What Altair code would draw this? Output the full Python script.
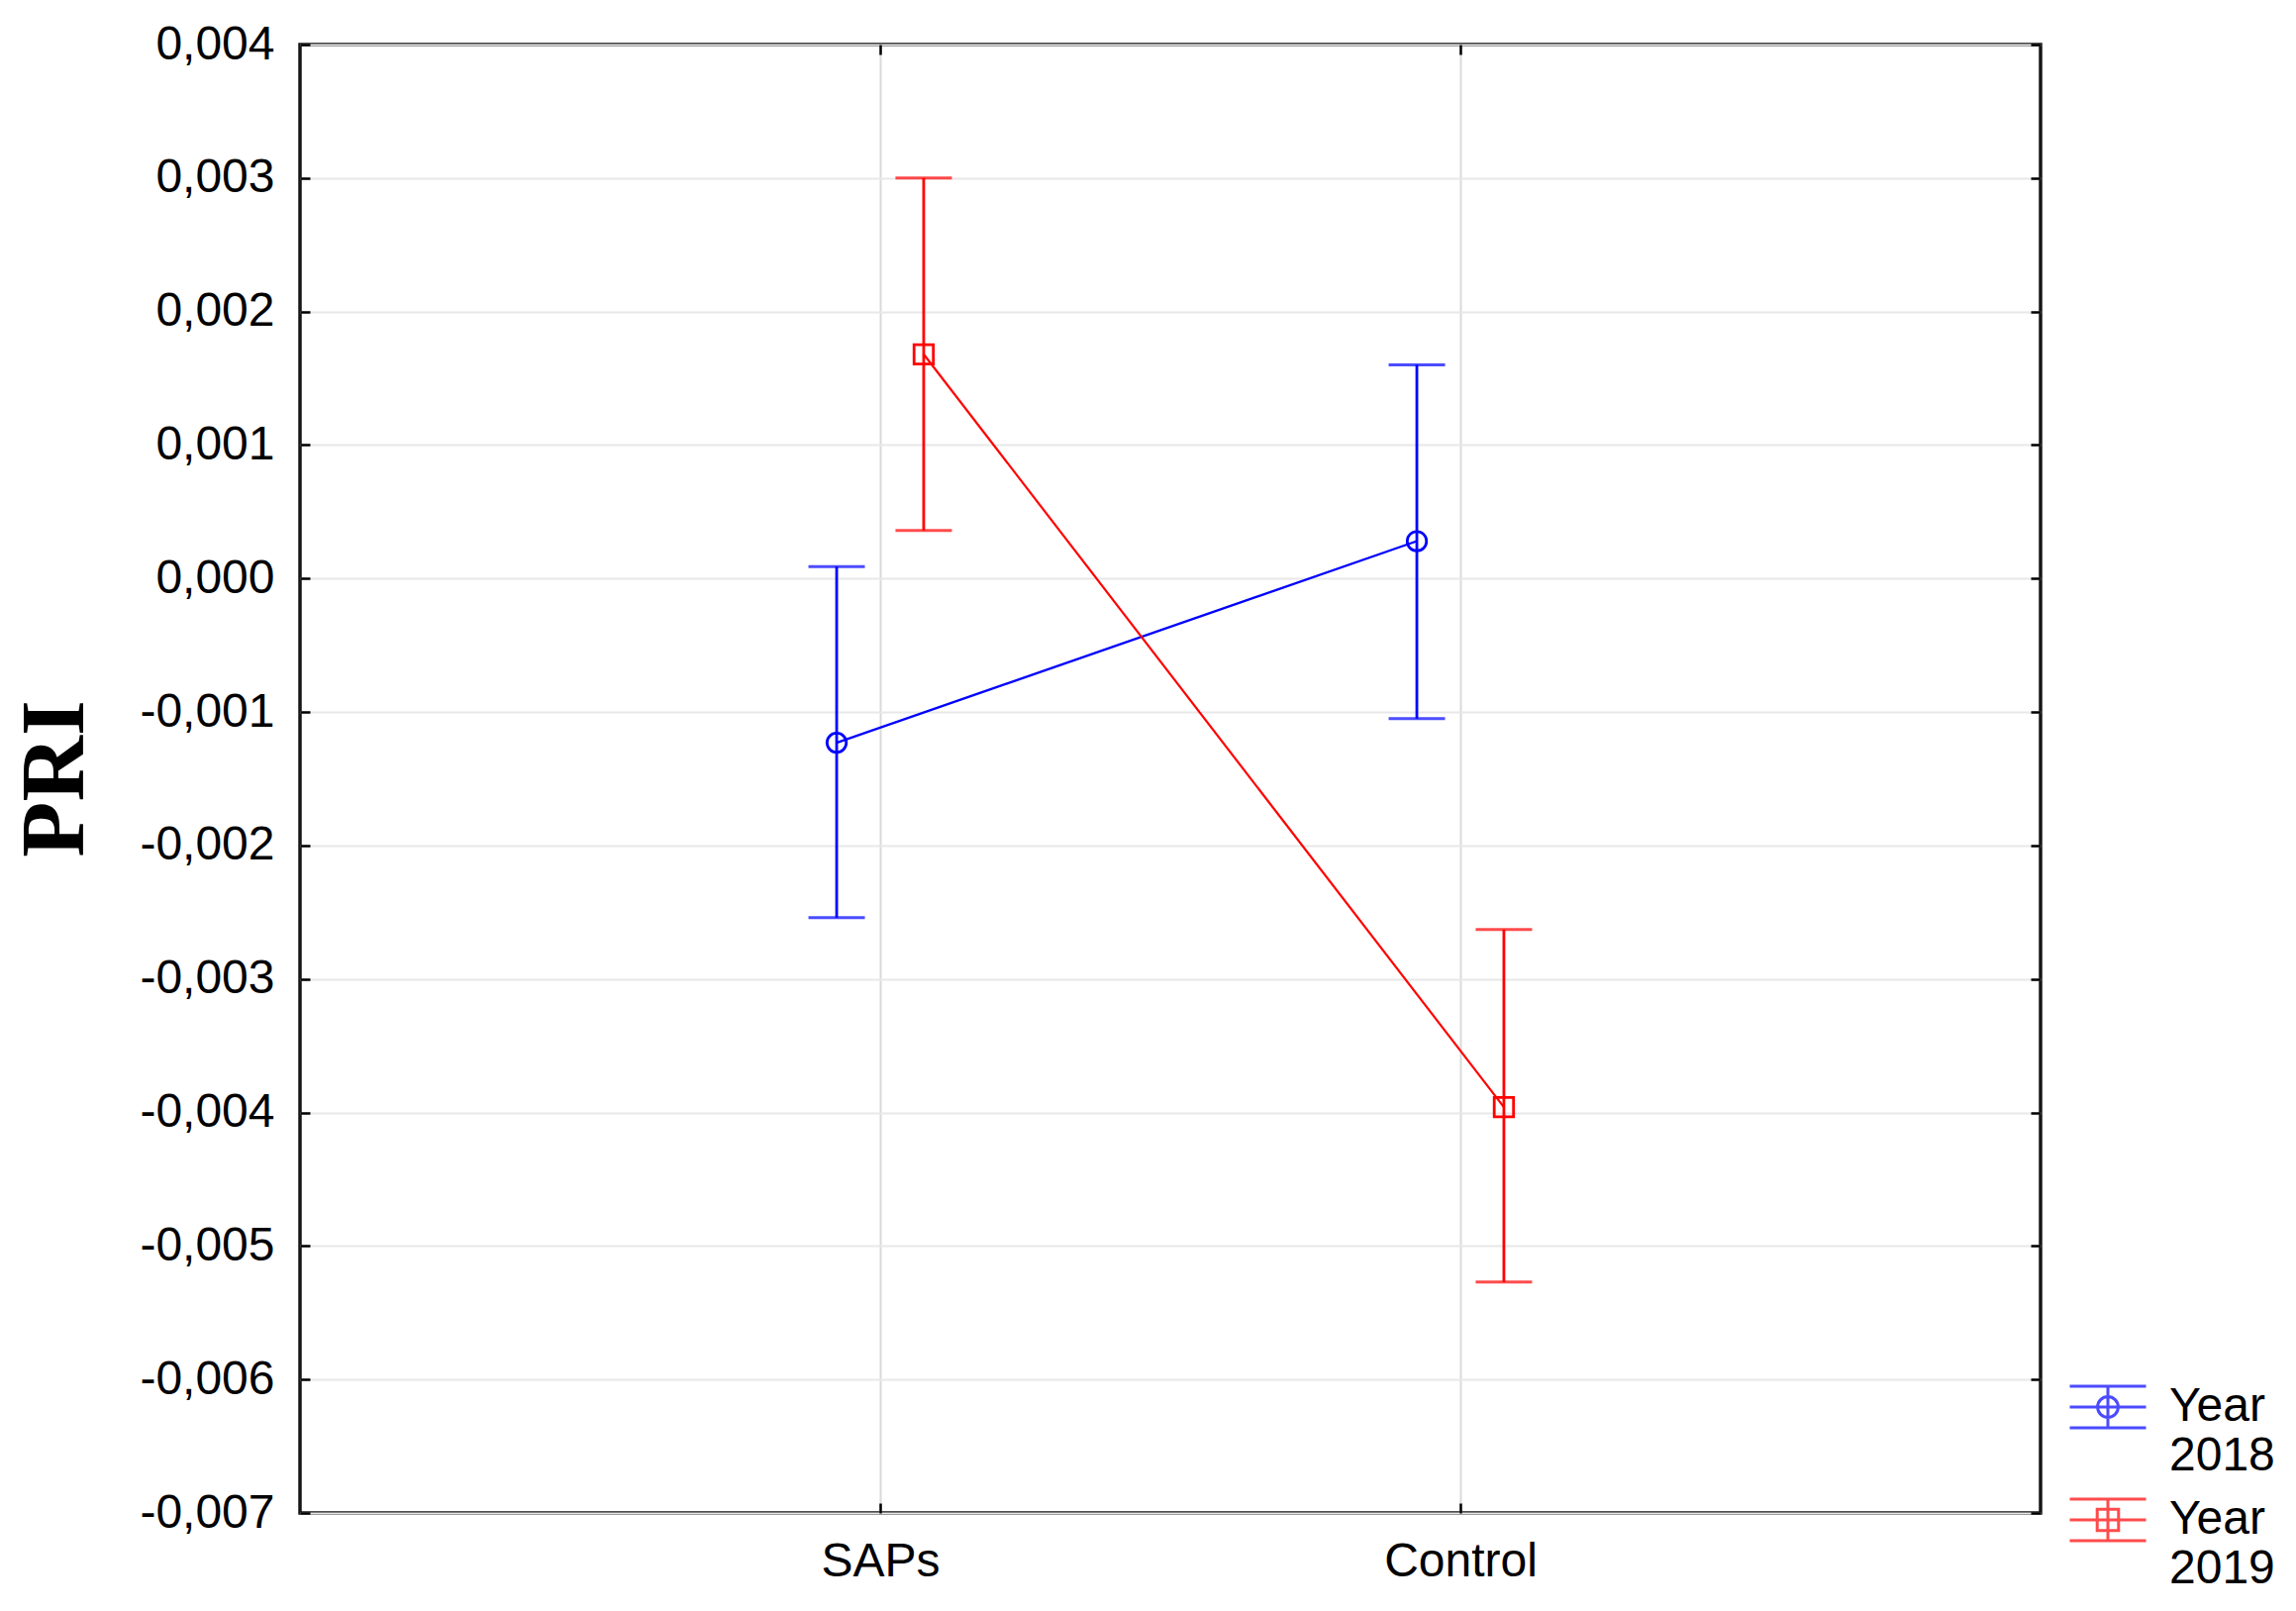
import altair as alt
import pandas as pd

# ---- data ----
groups = ["SAPs", "Control"]
years = ["2018", "2019"]
mean_2018 = [-0.00123, 0.00028]
low_2018 = [-0.00254, -0.00105]
high_2018 = [0.00009, 0.00160]
mean_2019 = [0.00168, -0.00396]
low_2019 = [0.00036, -0.00527]
high_2019 = [0.00300, -0.00263]
y_ticks = [-0.007, -0.006, -0.005, -0.004, -0.003, -0.002, -0.001,
           0.0, 0.001, 0.002, 0.003, 0.004]

dodge = {"2018": -0.075, "2019": 0.075}
rows = []
for yr, m, lo, hi in [("2018", mean_2018, low_2018, high_2018),
                      ("2019", mean_2019, low_2019, high_2019)]:
    for i, g in enumerate(groups):
        rows.append({"Group": g, "Year": yr, "pos": i + 1 + dodge[yr],
                     "mean": m[i], "low": lo[i], "high": hi[i]})
df = pd.DataFrame(rows)

col_dom = years
col_rng = ["#0000ff", "#ff0000"]
color_nolegend = alt.Color("Year:N", scale=alt.Scale(domain=col_dom, range=col_rng), legend=None)

FONT = "Liberation Sans"
LABEL_SIZE = 48
x_scale = alt.Scale(domain=[0, 3], nice=False, zero=False)
y_scale = alt.Scale(domain=[-0.007, 0.004], nice=False, zero=False)

y_label_expr = "(datum.value < -1e-9 ? '-' : '') + replace(format(abs(datum.value), '.3f'), '.', ',')"
x_label_expr = "datum.value == 1 ? 'SAPs' : (datum.value == 2 ? 'Control' : '')"

base = alt.Chart(df)

# main axis layer: connecting lines
lines = base.mark_line(strokeWidth=2.2).encode(
    x=alt.X("pos:Q", scale=x_scale, axis=alt.Axis(
        values=[1, 2], labelExpr=x_label_expr, title=None, ticks=False, domain=False,
        labelFont=FONT, labelFontSize=LABEL_SIZE, labelColor="#000", labelPadding=25,
        grid=True, gridColor="#dadada", gridWidth=2, orient="bottom")),
    y=alt.Y("mean:Q", scale=y_scale, axis=alt.Axis(
        values=y_ticks, labelExpr=y_label_expr, ticks=False, domain=False,
        labelFont=FONT, labelFontSize=LABEL_SIZE, labelColor="#000", labelPadding=26,
        grid=True, gridColor="#e8e8e8", gridWidth=2, orient="left",
        title="PRI", titleFont="Liberation Serif", titleFontWeight="bold",
        titleFontSize=92, titleColor="#000", titleAngle=270,
        titleX=-248, titleY=741, titleAlign="center", titleBaseline="middle")),
    color=color_nolegend,
    detail="Year:N",
    order="pos:Q",
)

rules = base.mark_rule(strokeWidth=2.8).encode(
    x=alt.X("pos:Q", scale=x_scale, axis=None),
    y=alt.Y("low:Q", scale=y_scale, axis=None),
    y2="high:Q",
    color=color_nolegend,
)

caps_hi = base.mark_tick(orient="horizontal", size=57, thickness=3).encode(
    x=alt.X("pos:Q", scale=x_scale, axis=None),
    y=alt.Y("high:Q", scale=y_scale, axis=None),
    color=color_nolegend,
)
caps_lo = base.mark_tick(orient="horizontal", size=57, thickness=3).encode(
    x=alt.X("pos:Q", scale=x_scale, axis=None),
    y=alt.Y("low:Q", scale=y_scale, axis=None),
    color=color_nolegend,
)

points = base.mark_point(filled=False, strokeWidth=2.8, size=380, opacity=1).encode(
    x=alt.X("pos:Q", scale=x_scale, axis=None),
    y=alt.Y("mean:Q", scale=y_scale, axis=None),
    color=color_nolegend,
    shape=alt.Shape("Year:N", scale=alt.Scale(domain=col_dom, range=["circle", "square"]), legend=None),
)

# legend glyphs (error bar with caps and marker)
circ_glyph = ("M-1,-0.545H1M-1,0H1M-1,0.545H1M0,-0.545V0.545"
              "M0.27,0A0.27,0.27 0 1,1 -0.27,0A0.27,0.27 0 1,1 0.27,0Z")
sq_glyph = ("M-1,-0.545H1M-1,0H1M-1,0.545H1M0,-0.545V0.545"
            "M-0.28,-0.28H0.28V0.28H-0.28Z")

legend_props = dict(title=None, orient="none", legendX=1786, legendY=1336,
                    labelExpr="['Year', datum.label]",
                    labelFont=FONT, labelFontSize=LABEL_SIZE, labelColor="#000",
                    labelOffset=22, symbolSize=5929, symbolStrokeWidth=3,
                    padding=0, rowPadding=-4)

legend_layer = base.transform_filter("false").mark_point(filled=False, strokeWidth=3).encode(
    x=alt.X("pos:Q", scale=x_scale, axis=None),
    y=alt.Y("mean:Q", scale=y_scale, axis=None),
    color=alt.Color("Year:N", scale=alt.Scale(domain=col_dom, range=col_rng),
                    legend=alt.Legend(**legend_props)),
    shape=alt.Shape("Year:N", scale=alt.Scale(domain=col_dom, range=[circ_glyph, sq_glyph]),
                    legend=alt.Legend(**legend_props)),
)

# inward tick marks on the frame (axes with negative offset)
tick_axis_common = dict(labels=False, domain=False, grid=False, ticks=True, tickSize=10,
                        tickWidth=2.5, tickColor="#000", title=None, offset=-10)
ticks_lb = base.transform_filter("false").mark_point().encode(
    x=alt.X("pos:Q", scale=x_scale, axis=alt.Axis(values=[1, 2], orient="bottom", **tick_axis_common)),
    y=alt.Y("mean:Q", scale=y_scale, axis=alt.Axis(values=y_ticks, orient="left", **tick_axis_common)),
)
ticks_rt = base.transform_filter("false").mark_point().encode(
    x=alt.X("pos:Q", scale=x_scale, axis=alt.Axis(values=[1, 2], orient="top", **tick_axis_common)),
    y=alt.Y("mean:Q", scale=y_scale, axis=alt.Axis(values=y_ticks, orient="right", **tick_axis_common)),
)

chart = alt.layer(
    lines, rules, caps_hi, caps_lo, points, legend_layer, ticks_lb, ticks_rt
).resolve_scale(
    color="independent", shape="independent"
).resolve_axis(
    x="independent", y="independent"
).properties(
    width=1758, height=1483,
    autosize=alt.AutoSizeParams(type="none"),
    padding={"left": 295, "top": 37, "right": 250, "bottom": 91},
).configure(
    font=FONT,
    view=alt.ViewConfig(stroke="#161616", strokeWidth=3.5),
)

chart.save("out.html", embed_options={"renderer": "svg", "actions": False})
